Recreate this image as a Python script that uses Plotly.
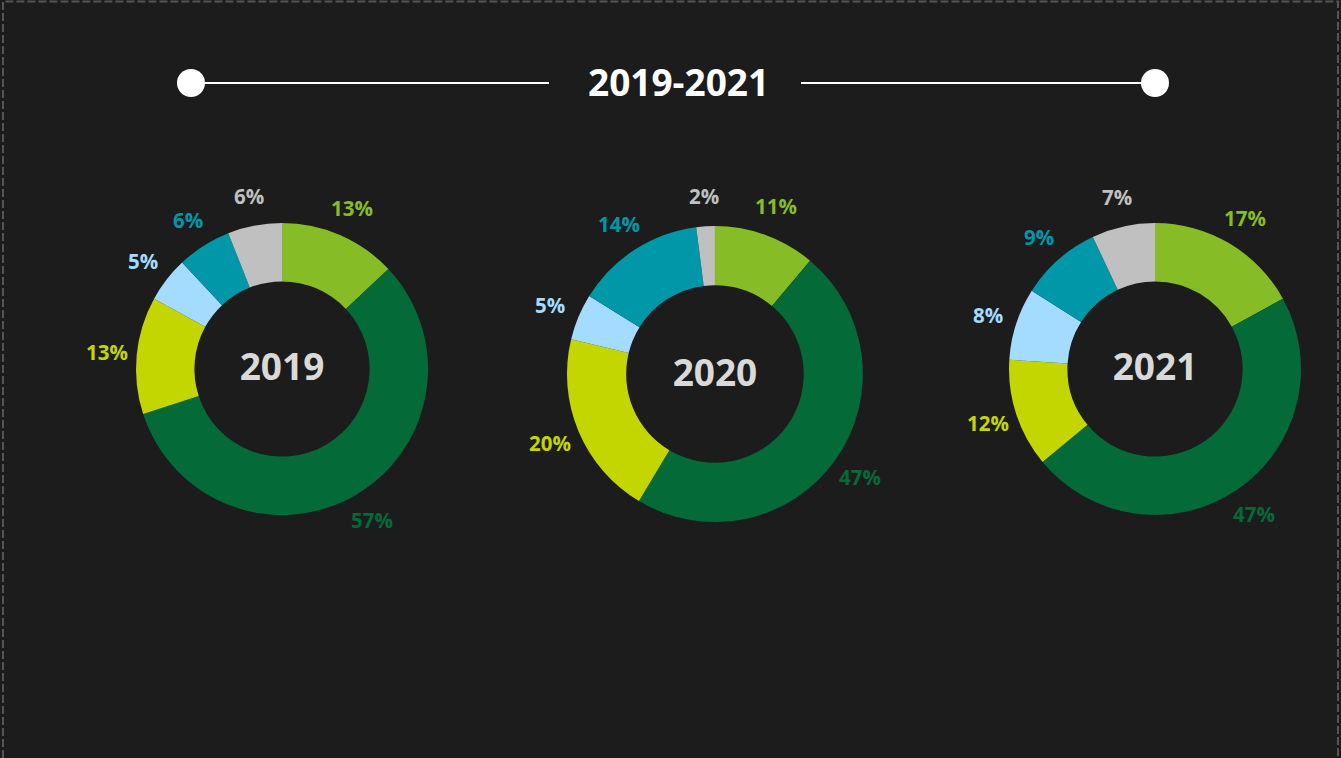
import math
import plotly.graph_objects as go

years = ["2019", "2020", "2021"]
categories = ["A", "B", "C", "D", "E", "F"]
values_2019 = [13, 57, 13, 5, 6, 6]
values_2020 = [11, 47, 20, 5, 14, 2]
values_2021 = [17, 47, 12, 8, 9, 7]
series = [values_2019, values_2020, values_2021]
title_text = "2019-2021"

colors = ["#86BC25", "#046A38", "#C4D600", "#A3DCFF", "#0097A9", "#C0C0C0"]
BG = "#1c1c1c"
FONT = "Open Sans"
W, H = 1341, 758

domains = [
    dict(x=[0.1014, 0.3192], y=[0.3206, 0.7058]),
    dict(x=[0.4228, 0.6435], y=[0.3113, 0.7018]),
    dict(x=[0.7524, 0.9702], y=[0.3206, 0.7058]),
]
LABEL_RADIUS_FACTOR = 1.205

fig = go.Figure()
annotations = []
for yr, vals, dom in zip(years, series, domains):
    fig.add_trace(go.Pie(
        labels=categories,
        values=vals,
        hole=0.6,
        sort=False,
        direction="clockwise",
        rotation=0,
        domain=dom,
        marker=dict(colors=colors, line=dict(width=0)),
        textinfo="none",
        title=dict(text="<b>" + yr + "</b>", position="middle center",
                   font=dict(family=FONT, size=37, color="#d9d9d9")),
        showlegend=False,
        hoverinfo="label+percent",
    ))
    # outside percentage labels placed at each slice's mid-angle
    cx = (dom["x"][0] + dom["x"][1]) / 2
    cy = (dom["y"][0] + dom["y"][1]) / 2
    r_px = min((dom["x"][1] - dom["x"][0]) * W, (dom["y"][1] - dom["y"][0]) * H) / 2
    total = sum(vals)
    cum = 0
    for v, c in zip(vals, colors):
        theta = 2 * math.pi * (cum + v / 2) / total
        cum += v
        rl = r_px * LABEL_RADIUS_FACTOR
        annotations.append(dict(
            text="<b>%d%%</b>" % v, xref="paper", yref="paper",
            x=cx + rl * math.sin(theta) / W, y=cy + rl * math.cos(theta) / H,
            xanchor="center", yanchor="middle", showarrow=False,
            font=dict(family=FONT, size=20.5, color=c)))

shapes = [
    dict(type="rect", xref="paper", yref="paper", x0=3 / W, x1=1 - 3 / W, y0=-0.05, y1=1 - 1.5 / H,
         line=dict(color="#555555", width=2, dash="8px,3px"), fillcolor="rgba(0,0,0,0)", layer="above"),
    dict(type="line", xref="paper", yref="paper", x0=191 / W, x1=549 / W, y0=1 - 83 / H, y1=1 - 83 / H,
         line=dict(color="white", width=2)),
    dict(type="line", xref="paper", yref="paper", x0=801 / W, x1=1155 / W, y0=1 - 83 / H, y1=1 - 83 / H,
         line=dict(color="white", width=2)),
    dict(type="circle", xref="paper", yref="paper", x0=177 / W, x1=205 / W, y0=1 - 97 / H, y1=1 - 69 / H,
         line=dict(width=0), fillcolor="white"),
    dict(type="circle", xref="paper", yref="paper", x0=1141 / W, x1=1169 / W, y0=1 - 97 / H, y1=1 - 69 / H,
         line=dict(width=0), fillcolor="white"),
]

annotations.append(dict(text="<b>" + title_text + "</b>", xref="paper", yref="paper",
                        x=678 / W, y=1 - 81 / H, xanchor="center", yanchor="middle", showarrow=False,
                        font=dict(family=FONT, size=37, color="white")))

fig.update_layout(
    width=W, height=H,
    margin=dict(l=0, r=0, t=0, b=0),
    paper_bgcolor=BG, plot_bgcolor=BG,
    shapes=shapes,
    annotations=annotations,
)

fig.write_html("out.html", config=dict(displayModeBar=False),
               post_script="document.body.style.margin='0';document.body.style.overflow='hidden';document.body.style.background='#1c1c1c';")
